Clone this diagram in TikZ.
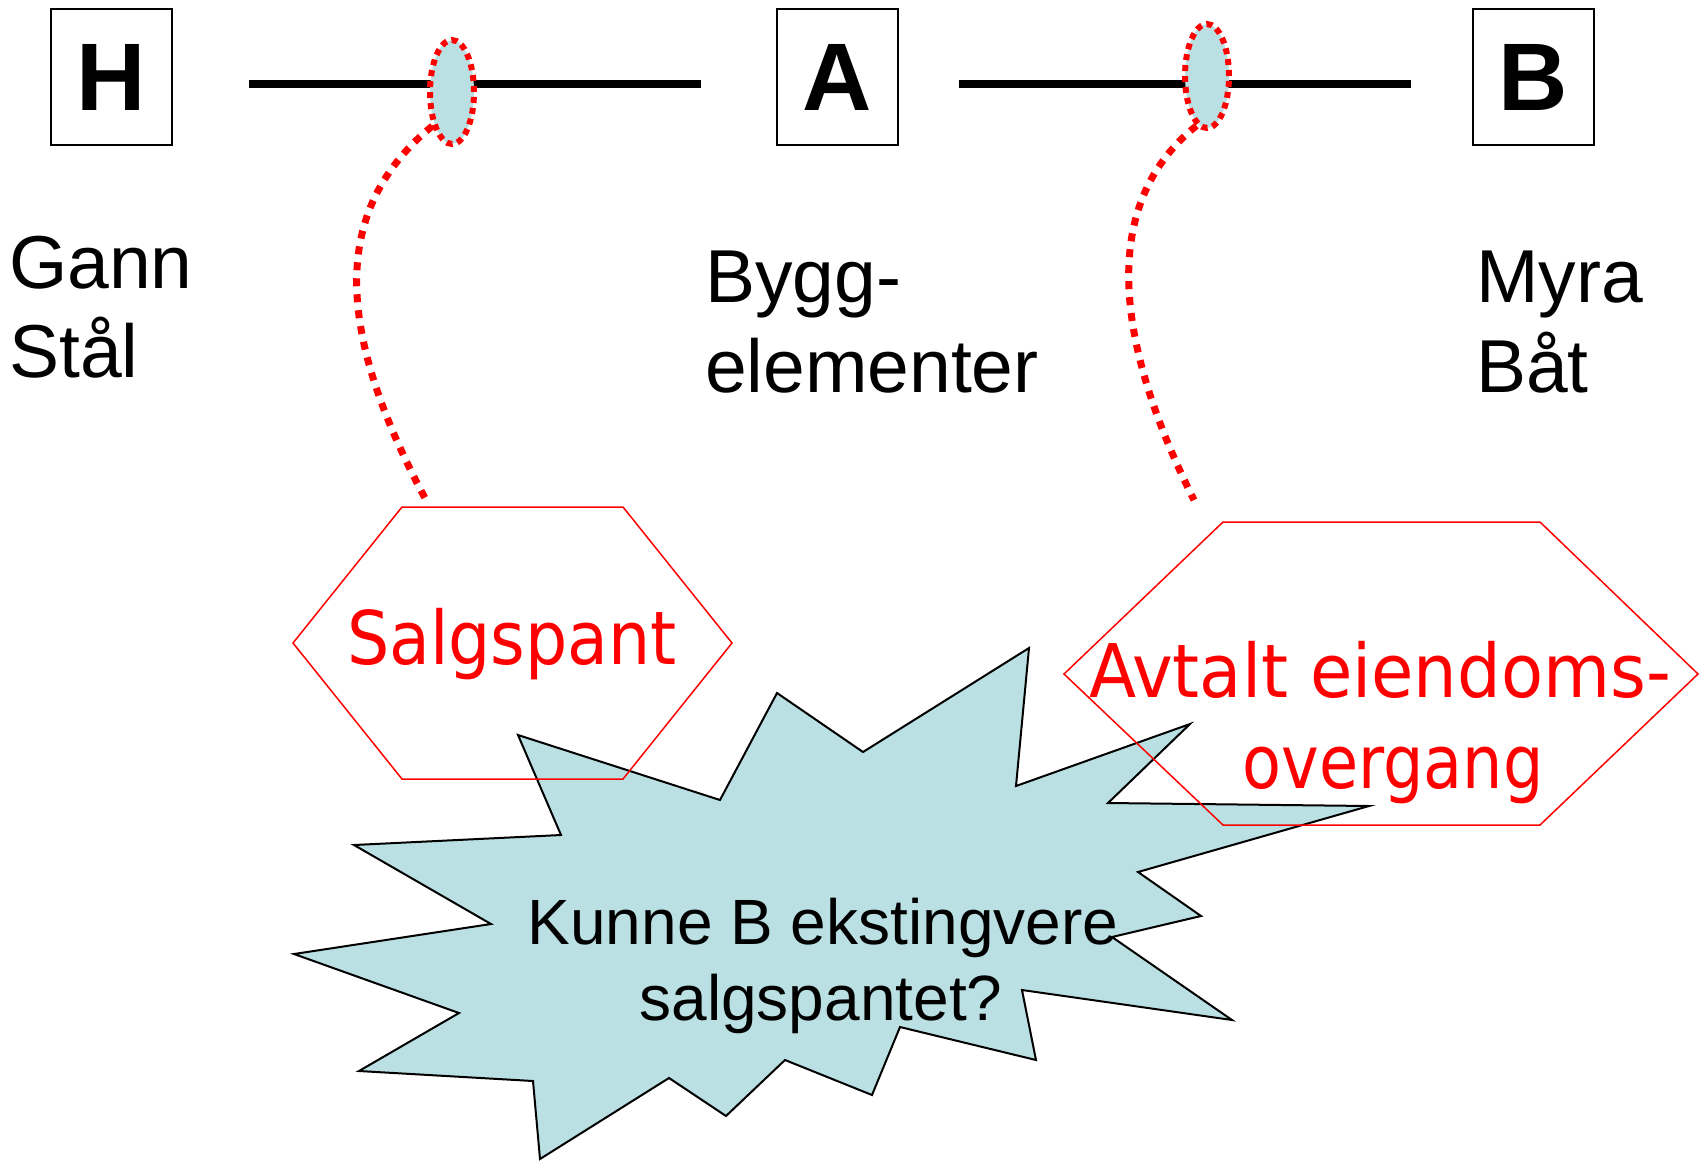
\documentclass[tikz,border=0pt]{standalone}
\usepackage{fontspec}
\setmainfont{Liberation Sans}
\newfontfamily\handfont{DejaVu Sans}
\usetikzlibrary{shapes.geometric}
\definecolor{lblue}{RGB}{186,224,227}
\begin{document}
\begin{tikzpicture}[x=1pt,y=1pt,
 letterbox/.style={draw=black,line width=2pt,minimum width=121pt,minimum height=136pt,inner sep=0pt,font=\fontsize{96}{110}\selectfont\bfseries},
 plabel/.style={anchor=base west,inner sep=0pt,font=\fontsize{75}{88}\selectfont},
 link/.style={line width=8pt},
 oval/.style={ellipse,draw=red,fill=lblue,line width=6pt,dash pattern=on 6pt off 5pt,minimum width=44pt,minimum height=104pt,inner sep=0pt},
 tie/.style={draw=red,line width=7pt,dash pattern=on 8pt off 8pt},
 hexa/.style={draw=red,line width=1.5pt},
 hand/.style={text=red,inner sep=0pt,anchor=base,font=\handfont\fontsize{74}{90}\selectfont},
 burst/.style={draw=black,fill=lblue,line width=2pt,line join=miter},
 qtext/.style={anchor=base,inner sep=0pt,font=\fontsize{64}{75}\selectfont}]
\useasboundingbox (0,0) rectangle (1700,-1160);

% boxes
\node[letterbox] (H) at (111.5,-77) {H};
\node[letterbox] (A) at (837,-77) {A};
\node[letterbox] (B) at (1533,-77) {B};

% links
\draw[link] ([xshift=76pt,yshift=-7pt]H.east) -- ([xshift=-75pt,yshift=-7pt]A.west);
\draw[link] ([xshift=60pt,yshift=-7pt]A.east) -- ([xshift=-61pt,yshift=-7pt]B.west);

% ovals
\node[oval] (e1) at (452,-92) {};
\node[oval] (e2) at (1207,-76) {};

% dotted ties
\coordinate (t1) at (426,-500);
\coordinate (t2) at (1194,-500);
\draw[tie] (e1.240) .. controls (330,-210) and (335,-330) .. (t1);
\draw[tie] (e2.258) .. controls (1104,-200) and (1109,-330) .. (t2);

% party labels
\node[plabel] (g1) at (9,-288) {Gann};
\node[plabel] (g2) at (9,-377) {Stål};
\node[plabel] (b1) at (705,-302) {Bygg-};
\node[plabel] (b2) at (705,-392) {elementer};
\node[plabel] (m1) at (1476,-302) {Myra};
\node[plabel] (m2) at (1476,-392) {Båt};

% burst
\draw[burst] (1029,-648) -- (1016,-786) -- (1190,-724) -- (1108,-803) -- (1369,-806)
 -- (1138,-872) -- (1201,-916) -- (1112,-937) -- (1232,-1020) -- (1022,-990)
 -- (1036,-1060) -- (900,-1027) -- (872,-1095) -- (785,-1060) -- (726,-1116)
 -- (669,-1078) -- (540,-1159) -- (533,-1081) -- (359,-1071) -- (459,-1013)
 -- (294,-954) -- (491,-924) -- (354,-845) -- (561,-835) -- (518,-735)
 -- (720,-800) -- (777,-693) -- (863,-752) -- cycle;

% hexagons
\draw[hexa] (402,-507) -- (623,-507) -- (732,-643) -- (623,-779) -- (402,-779) -- (293,-643) -- cycle;
\draw[hexa] (1223,-522) -- (1540,-522) -- (1698,-674) -- (1540,-825) -- (1223,-825) -- (1064,-674) -- cycle;

% red texts
\node[hand] (s1) at (512,-664) {\scalebox{0.9}[1]{Salgspant}};
\node[hand] (a1) at (1380,-697) {\scalebox{0.93}[1]{Avtalt eiendoms-}};
\node[hand] (a2) at (1393,-788) {\scalebox{0.86}[1]{overgang}};

% question
\node[qtext] (q1) at (823,-944) {Kunne B ekstingvere};
\node[qtext] (q2) at (821,-1020) {salgspantet?};
\end{tikzpicture}
\end{document}
